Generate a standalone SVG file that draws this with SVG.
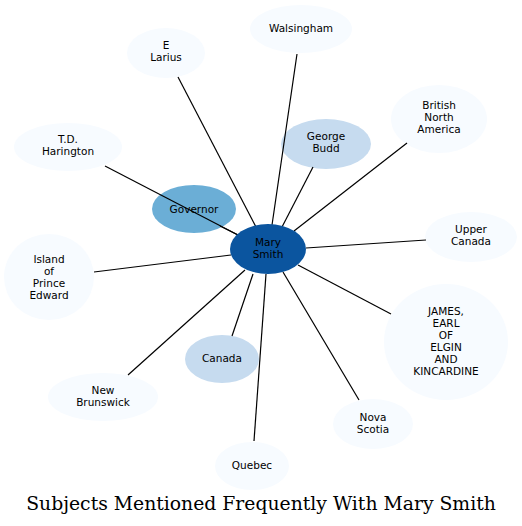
<svg xmlns="http://www.w3.org/2000/svg" width="522" height="526" viewBox="0 0 522 526">
<style>
.n{fill:#f7fbff}
.l{font-family:"DejaVu Sans",sans-serif;font-size:10.5px;text-anchor:middle;fill:#000}
.e{stroke:#000;stroke-width:1.2;fill:none}
.t{font-family:"DejaVu Serif",serif;font-size:18.8px;text-anchor:middle;fill:#000}
</style>
<rect width="522" height="526" fill="#fff"/>
<g id="walsingham"><ellipse class="n" cx="301" cy="29" rx="51" ry="24"/><text class="l" x="301" y="32">Walsingham</text></g>
<g id="e-larius"><ellipse class="n" cx="166" cy="53" rx="39" ry="25"/><text class="l" x="166" y="49">E</text><text class="l" x="166" y="61">Larius</text></g>
<g id="british-north-america"><ellipse class="n" cx="439" cy="119" rx="48" ry="34"/><text class="l" x="439" y="109">British</text><text class="l" x="439" y="121">North</text><text class="l" x="439" y="133">America</text></g>
<g id="td-harington"><ellipse class="n" cx="68" cy="147" rx="54" ry="24"/><text class="l" x="68" y="143">T.D.</text><text class="l" x="68" y="155">Harington</text></g>
<g id="george-budd"><ellipse cx="326" cy="144" rx="45" ry="25" fill="#c6dbef"/><text class="l" x="326" y="140">George</text><text class="l" x="326" y="152">Budd</text></g>
<g id="governor"><ellipse cx="194" cy="209" rx="42" ry="24" fill="#6baed6"/><text class="l" x="194" y="213">Governor</text></g>
<g id="upper-canada"><ellipse class="n" cx="471" cy="237" rx="46" ry="25"/><text class="l" x="471" y="233">Upper</text><text class="l" x="471" y="245">Canada</text></g>
<g id="island-of-prince-edward"><ellipse class="n" cx="49" cy="277" rx="45" ry="43"/><text class="l" x="49" y="263">Island</text><text class="l" x="49" y="275">of</text><text class="l" x="49" y="287">Prince</text><text class="l" x="49" y="299">Edward</text></g>
<g id="james"><ellipse class="n" cx="446" cy="342" rx="62" ry="58"/><text class="l" x="446" y="315">JAMES,</text><text class="l" x="446" y="327">EARL</text><text class="l" x="446" y="339">OF</text><text class="l" x="446" y="351">ELGIN</text><text class="l" x="446" y="363">AND</text><text class="l" x="446" y="375">KINCARDINE</text></g>
<g id="canada"><ellipse cx="222" cy="359" rx="37" ry="24" fill="#c6dbef"/><text class="l" x="222" y="362">Canada</text></g>
<g id="new-brunswick"><ellipse class="n" cx="103" cy="397" rx="55" ry="24"/><text class="l" x="103" y="394">New</text><text class="l" x="103" y="406">Brunswick</text></g>
<g id="nova-scotia"><ellipse class="n" cx="373" cy="424" rx="40" ry="25"/><text class="l" x="373" y="421">Nova</text><text class="l" x="373" y="433">Scotia</text></g>
<g id="quebec"><ellipse class="n" cx="252" cy="466" rx="37" ry="24"/><text class="l" x="252" y="469">Quebec</text></g>
<g id="connectors">
<line class="e" x1="297" y1="54" x2="272" y2="225"/>
<line class="e" x1="178" y1="77" x2="256" y2="227"/>
<line class="e" x1="313" y1="167" x2="282" y2="227"/>
<line class="e" x1="407" y1="143" x2="294" y2="231"/>
<line class="e" x1="105" y1="166" x2="238" y2="235"/>
<line class="e" x1="220" y1="226" x2="240" y2="236"/>
<line class="e" x1="426" y1="240" x2="306" y2="248"/>
<line class="e" x1="94" y1="272" x2="231" y2="255"/>
<line class="e" x1="391" y1="314" x2="298" y2="265"/>
<line class="e" x1="128" y1="375" x2="245" y2="270"/>
<line class="e" x1="232" y1="336" x2="253" y2="274"/>
<line class="e" x1="359" y1="400" x2="283" y2="272"/>
<line class="e" x1="254" y1="441" x2="266" y2="274"/>
</g>
<g id="mary-smith"><ellipse cx="268" cy="249" rx="38" ry="25" fill="#0b559f"/><text class="l" x="268" y="246">Mary</text><text class="l" x="268" y="258">Smith</text></g>
<text class="t" x="261" y="510">Subjects Mentioned Frequently With Mary Smith</text>
</svg>
